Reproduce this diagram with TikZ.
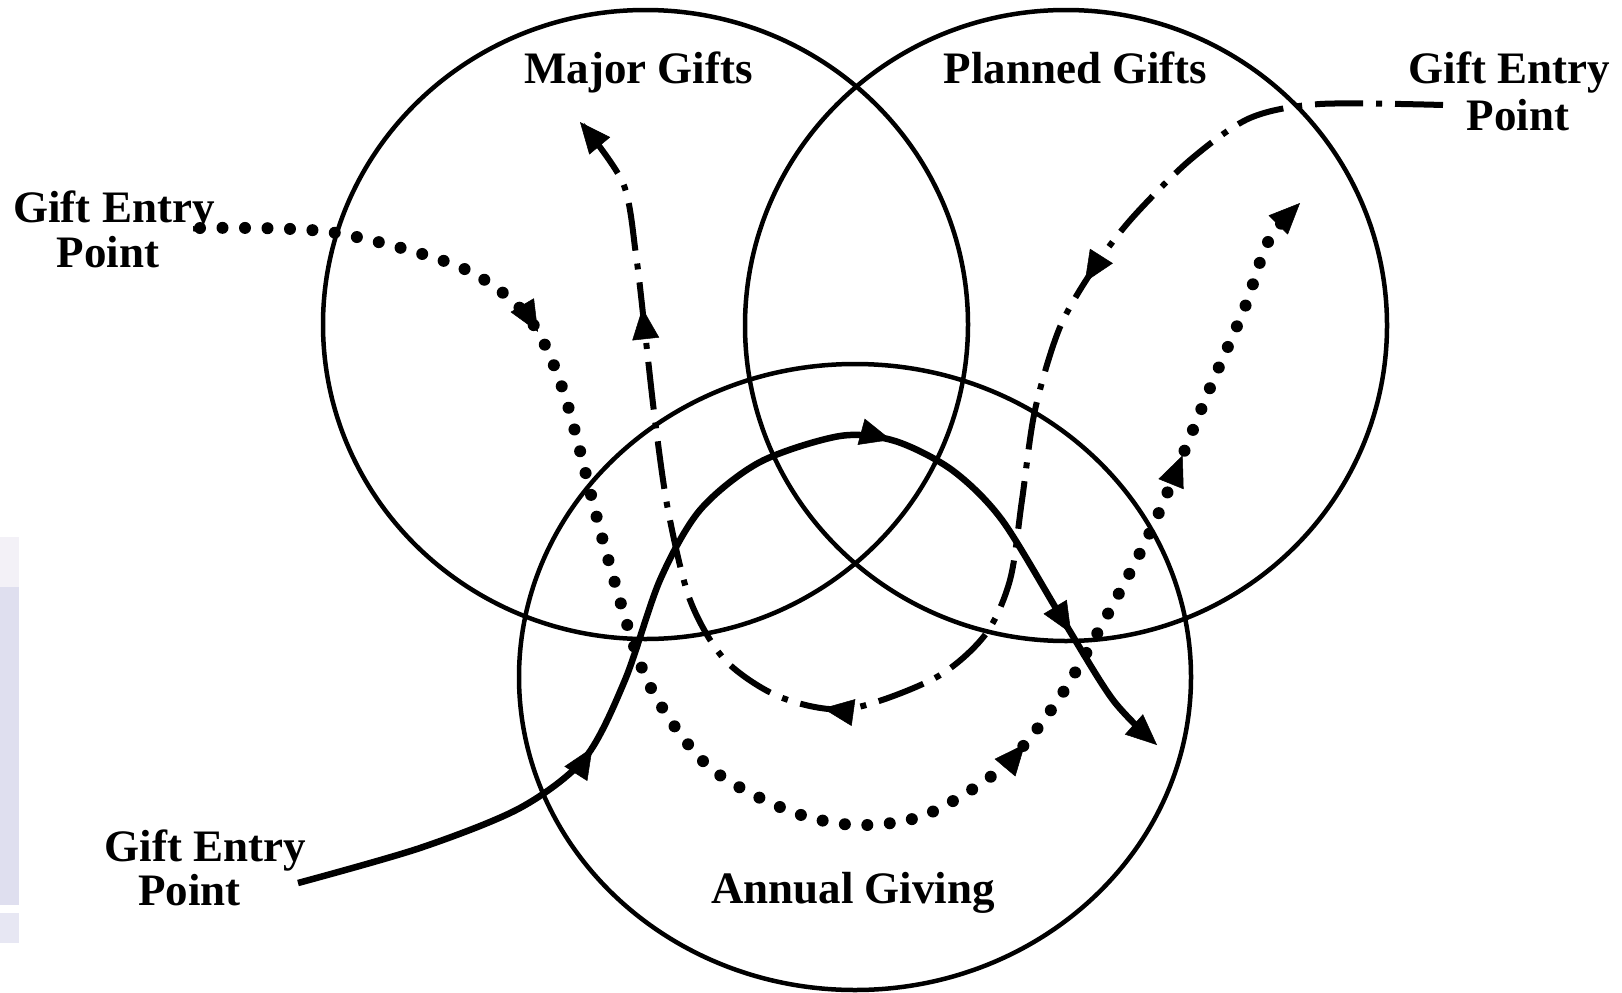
\documentclass[tikz,border=0pt]{standalone}
\usepackage{fontspec}
\setmainfont{Liberation Serif}
\usetikzlibrary{arrows.meta,decorations.markings}
\definecolor{bandA}{HTML}{F3F1F7}
\definecolor{bandB}{HTML}{DFDFEF}
\definecolor{bandC}{HTML}{E7E7F3}
\begin{document}
\begin{tikzpicture}[x=1pt,y=-1pt,
  ring/.style={draw=black,line width=4.5pt},
  lbl/.style={font=\fontsize{45}{46}\selectfont\bfseries,inner sep=0pt,anchor=base,text=black},
  >={Triangle[length=31pt,width=27pt,line width=0.5pt]},
  dotflow/.style={draw=black,line width=12pt,line cap=round,dash pattern=on 0pt off 22.5pt},
  dashdotflow/.style={draw=black,line width=6pt,dash pattern=on 48pt off 13pt on 6pt off 13pt},
  solidflow/.style={draw=black,line width=6.5pt},
  midarrows/.style args={#1/#2/#3}{decoration={markings,
     mark=at position #1 with {\arrow{>}},
     mark=at position #2 with {\arrow{>}},
     mark=at position #3 with {\arrow{>}}},postaction={decorate}}
]
\useasboundingbox (0,0) rectangle (1622,993);
\fill[white] (0,0) rectangle (1622,993);
% pale band at the left edge
\fill[bandA] (0,537) rectangle (19,587);
\fill[bandB] (0,587) rectangle (19,905);
\fill[bandC] (0,913) rectangle (19,943);

% the three circles
\draw[ring] (645.5,324.5) ellipse [x radius=322.5pt, y radius=314.5pt];
\draw[ring] (1066,325.5) ellipse [x radius=321pt, y radius=315.5pt];
\draw[ring] (855,677) ellipse [x radius=336pt, y radius=313pt];

% labels
\node[lbl] (major) at (638.5,83) {Major Gifts};
\node[lbl] (planned) at (1075.5,83) {Planned Gifts};
\node[lbl] (annual) at (853,903) {Annual Giving};
\node[lbl] (geR1) at (1509.5,83) {Gift Entry};
\node[lbl] (geR2) at (1518,130) {Point};
\node[lbl] (geL1) at (114,222) {Gift Entry};
\node[lbl] (geL2) at (108,267) {Point};
\node[lbl] (geB1) at (205.5,861) {Gift Entry};
\node[lbl] (geB2) at (189.5,905) {Point};

% connector end points
\coordinate (dotStart) at (200,228);
\coordinate (dotEnd) at (1300,203);
\coordinate (ddStart) at (1443,105);
\coordinate (ddEnd) at (580,122);
\coordinate (solStart) at (298,883);
\coordinate (solEnd) at (1157,745);

% dotted flow
\draw[dotflow,->,midarrows=368pt/1195pt/1525pt] plot[smooth] coordinates {(dotStart) (330,232) (460,267) (527,316) (564,393) (605,548) (647,680) (707,765) (787,810) (855,825) (925,815) (1003,767) (1060,697) (1117,597) (1157,517) (1210,388) (1245,307) (1268,242) (dotEnd)};

% dash-dot flow
\draw[dashdotflow,->,midarrows=430pt/985pt/1462pt] plot[smooth] coordinates {(ddStart) (1320,104) (1250,118) (1190,160) (1133,217) (1096,265) (1060,327) (1035,410) (1022,500) (1010,580) (985,635) (935,678) (848,709) (780,697) (725,660) (690,600) (668,510) (655,420) (645,332) (636,255) (623,183) (ddEnd)};

% solid flow
\draw[solidflow,->,midarrows=330pt/805pt/1077pt] plot[smooth] coordinates {(solStart) (420,848) (520,808) (585,758) (625,680) (660,580) (700,510) (760,462) (840,436) (895,441) (952,470) (1002,520) (1063,620) (1113,700) (solEnd)};
\end{tikzpicture}
\end{document}
